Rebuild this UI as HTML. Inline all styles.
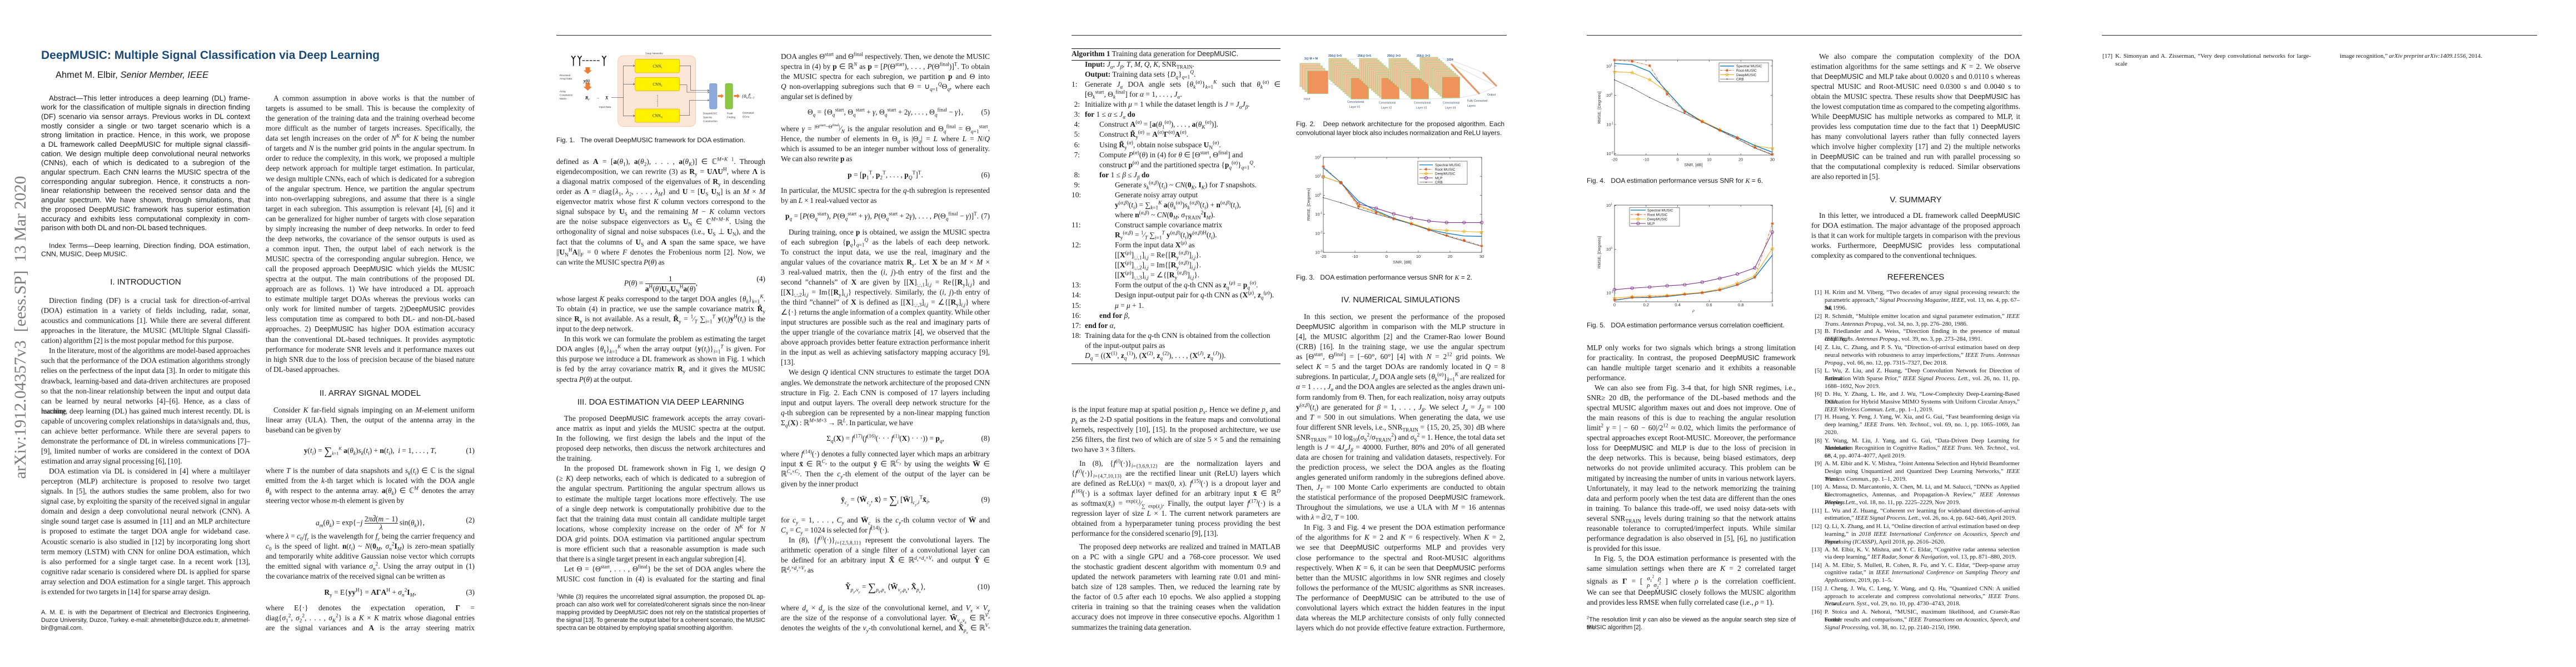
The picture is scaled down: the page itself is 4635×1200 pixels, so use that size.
<!DOCTYPE html>
<html><head><meta charset="utf-8">
<style>
html,body{margin:0;padding:0;background:#fff}
body{width:4635px;height:1200px;position:relative;overflow:hidden}
p{margin:0}
.pg{position:absolute;top:0;width:927px;height:1200px;overflow:hidden;background:#fff}
.rule{position:absolute;left:74px;top:63px;width:783px;height:1.4px;background:#222}
.c{position:absolute;width:376px;font:13.4px/18.07px "Liberation Serif",serif;color:#1a1a1a;word-spacing:-0.5px}
.c p{height:18.07px;text-align:justify;text-align-last:justify;white-space:normal}
.c p.e{text-align-last:left}
.c p.i{text-indent:14px}
sub,sup{font-size:0.7em;line-height:0}
.s{font-family:"Liberation Sans",sans-serif;font-size:0.94em}
.q{position:absolute;width:376px;font:13.4px/18px "Liberation Serif",serif;color:#1a1a1a;text-align:center;height:18px;white-space:nowrap}
.q .n{position:absolute;right:0;top:0}
.h{position:absolute;width:376px;font:15px/18px "Liberation Sans",sans-serif;color:#1a1a1a;text-align:center;white-space:nowrap}
.a{position:absolute;width:376px;font:13.2px/16.7px "Liberation Sans",sans-serif;color:#1a1a1a;word-spacing:-0.6px}
.a p{height:16.7px;text-align:justify;text-align-last:justify}
.a p.e{text-align-last:left}
.a p.i{text-indent:14px}
.x{position:absolute;width:376px;font:12.4px/14.5px "Liberation Sans",sans-serif;color:#1a1a1a;word-spacing:-0.5px}
.x p{height:14.5px;text-align:justify;text-align-last:justify}
.x p.e{text-align-last:left}
.f{position:absolute;width:376px;font:10.9px/14px "Liberation Sans",sans-serif;color:#1a1a1a;word-spacing:-0.5px}
.f p{height:14px;text-align:justify;text-align-last:justify}
.f p.e{text-align-last:left}
.cp{position:absolute;font:12px/16px "Liberation Sans",sans-serif;color:#1a1a1a;white-space:nowrap}
.cpj{position:absolute;width:375px;font:12px/16px "Liberation Sans",sans-serif;color:#1a1a1a;word-spacing:-0.5px}
.cpj p{height:16px;text-align:justify;text-align-last:justify}
.cpj p.e{text-align-last:left}
.r{position:absolute;left:478px;width:351px;padding-left:24px;font:10.9px/13.8px "Liberation Serif",serif;color:#1a1a1a;word-spacing:-0.4px}
.r p{height:13.8px;text-align:justify;text-align-last:justify}
.r p.e{text-align-last:left}
.r .no{position:absolute;left:0;top:0;width:19px;text-align:right}
.alg{position:absolute;left:74px;width:376px;font:13.4px/18.07px "Liberation Serif",serif;color:#1a1a1a}
.alg p{height:18.07px;position:relative;white-space:nowrap}
.alg .no{position:absolute;left:0;top:0;width:15px;text-align:right}
.alg .l0{padding-left:24px}
.alg .l1{padding-left:50px}
.alg .l2{padding-left:78px}
.alg .j{white-space:normal;text-align:justify;text-align-last:justify;width:352px}
.ti{position:absolute;font:bold 21px/24px "Liberation Sans",sans-serif;color:#1b4a78;white-space:nowrap}
.au{position:absolute;font:16.5px/18px "Liberation Sans",sans-serif;color:#1a1a1a;white-space:nowrap}
.side{position:absolute;left:37px;top:589px;width:0;height:0}
.side div{position:absolute;left:0;top:0;transform:translate(-50%,-50%) rotate(-90deg);font:30px "Liberation Serif",serif;color:#7c7c7c;white-space:nowrap}
.mx{display:inline-block;vertical-align:middle;font-size:11px;line-height:12px;text-align:center;text-indent:0}
svg text{font-family:"Liberation Sans",sans-serif}
.hr{position:absolute;background:#111}
</style></head>
<body>
<svg width="0" height="0" style="position:absolute">
<defs>
<marker id="mA" markerWidth="8" markerHeight="8" refX="4" refY="4" markerUnits="userSpaceOnUse"><path d="M1.2,4H6.8M4,1.2V6.8M2,2L6,6M2,6L6,2" stroke="#D95319" stroke-width="0.8" fill="none"/></marker>
<marker id="mS" markerWidth="8" markerHeight="8" refX="4" refY="4" markerUnits="userSpaceOnUse"><polygon points="4,0.8 4.73,2.99 7.04,3.01 5.19,4.39 5.88,6.59 4,5.25 2.12,6.59 2.81,4.39 0.96,3.01 3.27,2.99" fill="none" stroke="#EDB120" stroke-width="0.7"/></marker>
<marker id="mC" markerWidth="8" markerHeight="8" refX="4" refY="4" markerUnits="userSpaceOnUse"><circle cx="4" cy="4" r="2.6" fill="none" stroke="#7E2F8E" stroke-width="0.9"/></marker>
<marker id="mD" markerWidth="6" markerHeight="6" refX="3" refY="3" markerUnits="userSpaceOnUse"><circle cx="3" cy="3" r="0.9" fill="#222"/></marker>
<g id="stk">
<rect x="0" y="0" width="32" height="38" fill="#f6c39d" stroke="#a9d18e"/>
<rect x="3.6" y="3.2" width="32" height="38" fill="#f6c39d" stroke="#a9d18e"/>
<rect x="7.2" y="6.4" width="32" height="38" fill="#f6c39d" stroke="#a9d18e"/>
<rect x="10.8" y="9.6" width="32" height="38" fill="#f6c39d" stroke="#a9d18e"/>
<rect x="14.4" y="12.8" width="32" height="38" fill="#f6c39d" stroke="#a9d18e"/>
<rect x="18" y="16" width="32" height="38" fill="#f6c39d" stroke="#a9d18e"/>
<rect x="21.6" y="19.2" width="32" height="38" fill="#f6c39d" stroke="#a9d18e"/>
<rect x="25.2" y="22.4" width="32" height="38" fill="#f6c39d" stroke="#a9d18e"/>
<rect x="28.8" y="25.6" width="32" height="38" fill="#f6c39d" stroke="#a9d18e"/>
<rect x="32.4" y="28.8" width="32" height="38" fill="#f6c39d" stroke="#a9d18e"/>
<rect x="36" y="32" width="32" height="38" fill="#f6c39d" stroke="#a9d18e"/>
<rect x="39.6" y="35.2" width="32" height="38" fill="#f0935a" stroke="#a9d18e"/>
</g>
</defs>
</svg>

<!-- ================= PAGE 1 ================= -->
<div class="pg" style="left:0">
<div class="side"><div>arXiv:1912.04357v3&nbsp; [eess.SP]&nbsp; 13 Mar 2020</div></div>
<div class="ti" style="left:74px;top:88px">DeepMUSIC: Multiple Signal Classification via Deep Learning</div>
<div class="au" style="left:100px;top:126px">Ahmet M. Elbir, <i>Senior Member, IEEE</i></div>

<div class="a" style="left:74px;top:168.6px">
<p class="i">Abstract—This letter introduces a deep learning (DL) frame-</p>
<p>work for the classification of multiple signals in direction finding</p>
<p>(DF) scenario via sensor arrays. Previous works in DL context</p>
<p>mostly consider a single or two target scenario which is a</p>
<p>strong limitation in practice. Hence, in this work, we propose</p>
<p>a DL framework called DeepMUSIC for multiple signal classifi-</p>
<p>cation. We design multiple deep convolutional neural networks</p>
<p>(CNNs), each of which is dedicated to a subregion of the</p>
<p>angular spectrum. Each CNN learns the MUSIC spectra of the</p>
<p>corresponding angular subregion. Hence, it constructs a non-</p>
<p>linear relationship between the received sensor data and the</p>
<p>angular spectrum. We have shown, through simulations, that</p>
<p>the proposed DeepMUSIC framework has superior estimation</p>
<p>accuracy and exhibits less computational complexity in com-</p>
<p class="e">parison with both DL and non-DL based techniques.</p>
</div>
<div class="x" style="left:74px;top:435px">
<p style="text-indent:14px">Index Terms—Deep learning, Direction finding, DOA estimation,</p>
<p class="e">CNN, MUSIC, Deep MUSIC.</p>
</div>
<div class="h" style="left:74px;top:499px">I. INTRODUCTION</div>
<div class="c" style="left:74px;top:532px">
<p class="i">Direction finding (DF) is a crucial task for direction-of-arrival</p>
<p>(DOA) estimation in a variety of fields including, radar, sonar,</p>
<p>acoustics and communications [1]. While there are several different</p>
<p>approaches in the literature, the MUSIC (MUltiple SIgnal Classifi-</p>
<p class="e">cation) algorithm [2] is the most popular method for this purpose.</p>
<p class="i">In the literature, most of the algorithms are model-based approaches</p>
<p>such that the performance of the DOA estimation algorithms strongly</p>
<p>relies on the perfectness of the input data [3]. In order to mitigate this</p>
<p>drawback, learning-based and data-driven architectures are proposed</p>
<p>so that the non-linear relationship between the input and output data</p>
<p>can be learned by neural networks [4]–[6]. Hence, as a class of machine</p>
<p>learning, deep learning (DL) has gained much interest recently. DL is</p>
<p>capable of uncovering complex relationships in data/signals and, thus,</p>
<p>can achieve better performance. While there are several papers to</p>
<p>demonstrate the performance of DL in wireless communications [7]–</p>
<p>[9], limited number of works are considered in the context of DOA</p>
<p class="e">estimation and array signal processing [6], [10].</p>
<p class="i">DOA estimation via DL is considered in [4] where a multilayer</p>
<p>perceptron (MLP) architecture is proposed to resolve two target</p>
<p>signals. In [5], the authors studies the same problem, also for two</p>
<p>signal case, by exploiting the sparsity of the received signal in angular</p>
<p>domain and design a deep convolutional neural network (CNN). A</p>
<p>single sound target case is assumed in [11] and an MLP architecture</p>
<p>is proposed to estimate the target DOA angle for wideband case.</p>
<p>Acoustic scenario is also studied in [12] by incorporating long short</p>
<p>term memory (LSTM) with CNN for online DOA estimation, which</p>
<p>is also performed for a single target case. In a recent work [13],</p>
<p>cognitive radar scenario is considered where DL is applied for sparse</p>
<p>array selection and DOA estimation for a single target. This approach</p>
<p class="e">is extended for two targets in [14] for sparse array design.</p>
</div>
<div class="f" style="left:74px;top:1095px">
<p>A. M. E. is with the Department of Electrical and Electronics Engineering,</p>
<p>Duzce University, Duzce, Turkey. e-mail: ahmetelbir@duzce.edu.tr, ahmetmel-</p>
<p class="e">bir@gmail.com.</p>
</div>

<div class="c" style="left:478px;top:168px">
<p class="i">A common assumption in above works is that the number of</p>
<p>targets is assumed to be small. This is because the complexity of</p>
<p>the generation of the training data and the training overhead become</p>
<p>more difficult as the number of targets increases. Specifically, the</p>
<p>data set length increases on the order of <i>N</i><sup><i>K</i></sup> for <i>K</i> being the number</p>
<p>of targets and <i>N</i> is the number grid points in the angular spectrum. In</p>
<p>order to reduce the complexity, in this work, we proposed a multiple</p>
<p>deep network approach for multiple target estimation. In particular,</p>
<p>we design multiple CNNs, each of which is dedicated for a subregion</p>
<p>of the angular spectrum. Hence, we partition the angular spectrum</p>
<p>into non-overlapping subregions, and assume that there is a single</p>
<p>target in each subregion. This assumption is relevant [4], [6] and it</p>
<p>can be generalized for higher number of targets with close separation</p>
<p>by simply increasing the number of deep networks. In order to feed</p>
<p>the deep networks, the covariance of the sensor outputs is used as</p>
<p>a common input. Then, the output label of each network is the</p>
<p>MUSIC spectra of the corresponding angular subregion. Hence, we</p>
<p>call the proposed approach <span class="s">DeepMUSIC</span> which yields the MUSIC</p>
<p>spectra at the output. The main contributions of the proposed DL</p>
<p>approach are as follows. 1) We have introduced a DL approach</p>
<p>to estimate multiple target DOAs whereas the previous works can</p>
<p>only work for limited number of targets. 2)<span class="s">DeepMUSIC</span> provides</p>
<p>less computation time as compared to both DL- and non-DL-based</p>
<p>approaches. 2) <span class="s">DeepMUSIC</span> has higher DOA estimation accuracy</p>
<p>than the conventional DL-based techniques. It provides asymptotic</p>
<p>performance for moderate SNR levels and it performance maxes out</p>
<p>in high SNR due to the loss of precision because of the biased nature</p>
<p class="e">of DL-based approaches.</p>
</div>
<div class="h" style="left:478px;top:699px">II. ARRAY SIGNAL MODEL</div>
<div class="c" style="left:478px;top:729px">
<p class="i">Consider <i>K</i> far-field signals impinging on an <i>M</i>-element uniform</p>
<p>linear array (ULA). Then, the output of the antenna array in the</p>
<p class="e">baseband can be given by</p>
</div>
<div class="q" style="left:478px;top:802px"><b>y</b>(<i>t<sub>i</sub></i>) = <span style="font-size:20px;vertical-align:-3px">∑</span><sub style="font-size:8px"><i>k</i>=1</sub><sup style="font-size:8px"><i>K</i></sup> <b>a</b>(<i>θ<sub>k</sub></i>)<i>s<sub>k</sub></i>(<i>t<sub>i</sub></i>) + <b>n</b>(<i>t<sub>i</sub></i>),&nbsp; <i>i</i> = 1, . . . , <i>T</i>,<span class="n">(1)</span></div>
<div class="c" style="left:478px;top:838px">
<p>where <i>T</i> is the number of data snapshots and <i>s<sub>k</sub></i>(<i>t<sub>i</sub></i>) ∈ ℂ is the signal</p>
<p>emitted from the <i>k</i>-th target which is located with the DOA angle</p>
<p><i>θ<sub>k</sub></i> with respect to the antenna array. <b>a</b>(<i>θ<sub>k</sub></i>) ∈ ℂ<sup><i>M</i></sup> denotes the array</p>
<p class="e">steering vector whose <i>m</i>-th element is given by</p>
</div>
<div class="q" style="left:478px;top:927px"><i>a<sub>m</sub></i>(<i>θ<sub>k</sub></i>) = exp{−<i>j</i> <span style="display:inline-block;vertical-align:middle;text-align:center;line-height:14px"><span style="border-bottom:1px solid #222;display:block">2<i>π</i><i>d̄</i>(<i>m</i> − 1)</span><i>λ</i></span> sin(<i>θ<sub>k</sub></i>)},<span class="n">(2)</span></div>
<div class="c" style="left:478px;top:956px">
<p>where <i>λ</i> = <i>c</i><sub>0</sub>/<i>f<sub>c</sub></i> is the wavelength for <i>f<sub>c</sub></i> being the carrier frequency and</p>
<p><i>c</i><sub>0</sub> is the speed of light. <b>n</b>(<i>t<sub>i</sub></i>) ~ <i>N</i>(<b>0</b><sub><i>M</i></sub>, <i>σ</i><sub><i>n</i></sub><sup>2</sup><b>I</b><sub><i>M</i></sub>) is zero-mean spatially</p>
<p>and temporarily white additive Gaussian noise vector which corrupts</p>
<p>the emitted signal with variance <i>σ</i><sub><i>n</i></sub><sup>2</sup>. Using the array output in (1)</p>
<p class="e">the covariance matrix of the received signal can be written as</p>
</div>
<div class="q" style="left:478px;top:1056.5px"><b>R</b><sub>y</sub> = E{<b>yy</b><sup>H</sup>} = <b>AΓA</b><sup>H</sup> + <i>σ</i><sub><i>n</i></sub><sup>2</sup><b>I</b><sub><i>M</i></sub>,<span class="n">(3)</span></div>
<div class="c" style="left:478px;top:1084.5px">
<p>where E{·} denotes the expectation operation, <b>Γ</b> =</p>
<p>diag{<i>σ</i><sub>1</sub><sup>2</sup>, <i>σ</i><sub>2</sub><sup>2</sup>, . . . , <i>σ</i><sub><i>K</i></sub><sup>2</sup>} is a <i>K</i> × <i>K</i> matrix whose diagonal entries</p>
<p>are the signal variances and <b>A</b> is the array steering matrix</p>
</div>
</div>

<!-- ================= PAGE 2 ================= -->
<div class="pg" style="left:927px">
<div class="rule"></div>
<svg width="927" height="260" style="position:absolute;left:0;top:0">
<g stroke="#111" stroke-width="1.6" fill="none" stroke-linecap="round">
<path d="M104.7,118V108 M101.3,101 Q104.7,104 104.7,108 Q104.7,104 108.1,101"/>
<path d="M116,118V108 M112.6,101 Q116,104 116,108 Q116,104 119.4,101"/>
<path d="M160,118V108 M156.6,101 Q160,104 160,108 Q160,104 163.4,101"/>
<path d="M121,109H152" stroke-dasharray="4 2.6" stroke-width="1.2"/>
</g>
<polygon fill="#ed7d31" points="126.5,121 134.5,121 134.5,126.5 138,126.5 130.5,133 123,126.5 126.5,126.5"/>
<polygon fill="#ed7d31" points="126.5,149 134.5,149 134.5,156 138,156 130.5,163 123,156 126.5,156"/>
<g font-size="4.6" fill="#333">
<text x="80" y="137">Received</text><text x="80" y="143">Array Data</text>
<text x="80" y="166">Array</text><text x="80" y="172.5">Covariance</text><text x="80" y="179">Matrix</text>
<text x="151" y="194">Input  Data</text>
<text x="250" y="97.5" text-anchor="middle">Deep Networks</text>
<text x="338" y="205.5">DeepMUSIC</text><text x="338" y="212.5">Spectra</text><text x="338" y="219.5">Construction</text>
<text x="381" y="205.5">Peak</text><text x="381" y="212.5">Finding</text>
<text x="409" y="204.5">Estimated</text><text x="409" y="211.5">DOAs</text>
</g>
<g font-family="Liberation Serif" font-style="italic" font-weight="bold" fill="#111">
<text x="123" y="148" font-size="8" style="font-family:'Liberation Serif'">y(t)</text>
<text x="126" y="178.5" font-size="8" style="font-family:'Liberation Serif'">R<tspan font-size="5" dy="1.5">y</tspan></text>
<text x="162" y="178.5" font-size="8" style="font-family:'Liberation Serif'">X</text>
</g>
<text x="145" y="178" font-size="7" fill="#333">→</text>
<rect x="184.7" y="100" width="140" height="127.7" rx="10" fill="#fbe5d6" stroke="#f4c7a8" stroke-width="0.8"/>
<g stroke="#444" stroke-width="0.6" fill="none">
<path d="M173,175.3H194.7 M194.7,118.3V209.3 M194.7,118.3H215 M194.7,151.3H215 M194.7,208.3H215"/>
<path d="M212,116.5L215,118.3L212,120.1 M212,149.5L215,151.3L212,153.1 M212,206.5L215,208.3L212,210.1"/>
<path d="M295.7,118.3H315.7V162.7H349 M295.7,152.7H309V166H349 M295.7,207.7H313.7V180.3H349"/>
<path d="M346,161L349,162.7L346,164.4 M346,164.3L349,166L346,167.7 M346,178.6L349,180.3L346,182"/>
<path d="M256.3,171V193" stroke-dasharray="1 1.2" stroke-width="0.9"/>
</g>
<g fill="#fff100" stroke="#d9b400" stroke-width="0.8">
<rect x="215.7" y="106.7" width="80" height="24.3" rx="2.5"/>
<rect x="215.7" y="139.3" width="80" height="24" rx="2.5"/>
<rect x="215.7" y="196" width="80" height="24" rx="2.5"/>
</g>
<g font-size="7" fill="#222" text-anchor="middle" style="font-family:'Liberation Serif'">
<text x="256" y="121.5" style="font-family:'Liberation Serif'">CNN<tspan font-size="4.5" dy="1.5">1</tspan></text>
<text x="256" y="154" style="font-family:'Liberation Serif'">CNN<tspan font-size="4.5" dy="1.5">2</tspan></text>
<text x="256" y="210.5" style="font-family:'Liberation Serif'">CNN<tspan font-size="4.5" dy="1.5">Q</tspan></text>
</g>
<rect x="349.7" y="150.3" width="13.3" height="45.7" rx="2.5" fill="#8eaadb" stroke="#6f8fc4" stroke-width="0.7"/>
<rect x="378" y="150.3" width="13.3" height="45.7" rx="2.5" fill="#8dc63f" stroke="#70ad47" stroke-width="0.7"/>
<polygon fill="#ed7d31" points="364.5,171 370.5,171 370.5,168.5 375,172.7 370.5,177 370.5,174.4 364.5,174.4"/>
<polygon fill="#ed7d31" points="393.5,171 399.5,171 399.5,168.5 404,172.7 399.5,177 399.5,174.4 393.5,174.4"/>
<text x="408" y="176" font-size="8.5" fill="#222" style="font-family:'Liberation Serif';font-style:italic">{θ<tspan font-size="5.5" dy="1.5">k</tspan><tspan dy="-1.5">}</tspan><tspan font-size="5.5" dy="1.5">k=1</tspan><tspan font-size="5.5" dx="-10" dy="-6">K</tspan></text>
</svg>
<div class="cp" style="left:74px;top:244px">Fig. 1.&nbsp;&nbsp;&nbsp;The overall DeepMUSIC framework for DOA estimation.</div>

<div class="c" style="left:74px;top:282px">
<p>defined as <b>A</b> = [<b>a</b>(<i>θ</i><sub>1</sub>), <b>a</b>(<i>θ</i><sub>2</sub>), . . . , <b>a</b>(<i>θ<sub>K</sub></i>)] ∈ ℂ<sup><i>M</i>×<i>K</i> 1</sup>. Through</p>
<p>eigendecomposition, we can rewrite (3) as <b>R</b><sub>y</sub> = <b>UΛU</b><sup>H</sup>, where <b>Λ</b> is</p>
<p>a diagonal matrix composed of the eigenvalues of <b>R</b><sub>y</sub> in descending</p>
<p>order as <b>Λ</b> = diag{<i>λ</i><sub>1</sub>, <i>λ</i><sub>2</sub>, . . . , <i>λ<sub>M</sub></i>} and <b>U</b> = [<b>U</b><sub>S</sub> <b>U</b><sub>N</sub>] is an <i>M</i> × <i>M</i></p>
<p>eigenvector matrix whose first <i>K</i> column vectors correspond to the</p>
<p>signal subspace by <b>U</b><sub>S</sub> and the remaining <i>M</i> − <i>K</i> column vectors</p>
<p>are the noise subspace eigenvectors as <b>U</b><sub>N</sub> ∈ ℂ<sup><i>M</i>×<i>M</i>−<i>K</i></sup>. Using the</p>
<p>orthogonality of signal and noise subspaces (i.e., <b>U</b><sub>S</sub> ⊥ <b>U</b><sub>N</sub>), and the</p>
<p>fact that the columns of <b>U</b><sub>S</sub> and <b>A</b> span the same space, we have</p>
<p>||<b>U</b><sub>N</sub><sup>H</sup><b>A</b>||<sub><i>F</i></sub> = 0 where <i>F</i> denotes the Frobenious norm [2]. Now, we</p>
<p class="e">can write the MUSIC spectra <i>P</i>(<i>θ</i>) as</p>
</div>
<div class="q" style="left:74px;top:493px"><i>P</i>(<i>θ</i>) = <span style="display:inline-block;vertical-align:middle;text-align:center;line-height:17px"><span style="border-bottom:1px solid #222;display:block">1</span><b>a</b><sup>H</sup>(<i>θ</i>)<b>U</b><sub>N</sub><b>U</b><sub>N</sub><sup>H</sup><b>a</b>(<i>θ</i>)</span>,<span class="n">(4)</span></div>
<div class="c" style="left:74px;top:529px">
<p>whose largest <i>K</i> peaks correspond to the target DOA angles {<i>θ<sub>k</sub></i>}<sub><i>k</i>=1</sub><sup><i>K</i></sup>.</p>
<p>To obtain (4) in practice, we use the sample covariance matrix <b>R̂</b><sub>y</sub></p>
<p>since <b>R</b><sub>y</sub> is not available. As a result, <b>R̂</b><sub>y</sub> = <sup>1</sup>⁄<sub><i>T</i></sub> ∑<sub><i>i</i>=1</sub><sup><i>T</i></sup> <b>y</b>(<i>t<sub>i</sub></i>)<b>y</b><sup>H</sup>(<i>t<sub>i</sub></i>) is the</p>
<p class="e">input to the deep network.</p>
<p class="i">In this work we can formulate the problem as estimating the target</p>
<p>DOA angles {<i>θ<sub>k</sub></i>}<sub><i>k</i>=1</sub><sup><i>K</i></sup> when the array output {<b>y</b>(<i>t<sub>i</sub></i>)}<sub><i>i</i>=1</sub><sup><i>T</i></sup> is given. For</p>
<p>this purpose we introduce a DL framework as shown in Fig. 1 which</p>
<p>is fed by the array covariance matrix <b>R</b><sub>y</sub> and it gives the MUSIC</p>
<p class="e">spectra <i>P</i>(<i>θ</i>) at the output.</p>
</div>
<div class="h" style="left:74px;top:715px">III. DOA ESTIMATION VIA DEEP LEARNING</div>
<div class="c" style="left:74px;top:744px">
<p class="i">The proposed <span class="s">DeepMUSIC</span> framework accepts the array covari-</p>
<p>ance matrix as input and yields the MUSIC spectra at the output.</p>
<p>In the following, we first design the labels and the input of the</p>
<p>proposed deep networks, then discuss the network architectures and</p>
<p class="e">the training.</p>
<p class="i">In the proposed DL framework shown in Fig 1, we design <i>Q</i></p>
<p>(≥ <i>K</i>) deep networks, each of which is dedicated to a subregion of</p>
<p>the angular spectrum. Partitioning the angular spectrum allows us</p>
<p>to estimate the multiple target locations more effectively. The use</p>
<p>of a single deep network is computationally prohibitive due to the</p>
<p>fact that the training data must contain all candidate multiple target</p>
<p>locations, whose complexity increase on the order of <i>N</i><sup><i>K</i></sup> for <i>N</i></p>
<p>DOA grid points. DOA estimation via partitioned angular spectrum</p>
<p>is more efficient such that a reasonable assumption is made such</p>
<p class="e">that there is a single target present in each angular subregion [4].</p>
<p class="i">Let Θ = {Θ<sup>start</sup>, . . . , Θ<sup>final</sup>} be the set of DOA angles where the</p>
<p>MUSIC cost function in (4) is evaluated for the starting and final</p>
</div>
<div class="f" style="left:74px;top:1067px">
<p><sup>1</sup>While (3) requires the uncorrelated signal assumption, the proposed DL ap-</p>
<p>proach can also work well for correlated/coherent signals since the non-linear</p>
<p>mapping provided by DeepMUSIC does not rely on the statistical properties of</p>
<p>the signal [13]. To generate the output label for a coherent scenario, the MUSIC</p>
<p class="e">spectra can be obtained by employing spatial smoothing algorithm.</p>
</div>

<div class="c" style="left:478px;top:92.5px">
<p>DOA angles Θ<sup>start</sup> and Θ<sup>final</sup> respectively. Then, we denote the MUSIC</p>
<p>spectra in (4) by <b>p</b> ∈ ℝ<sup><i>N</i></sup> as <b>p</b> = [<i>P</i>(Θ<sup>start</sup>), . . . , <i>P</i>(Θ<sup>final</sup>)]<sup>T</sup>. To obtain</p>
<p>the MUSIC spectra for each subregion, we partition <b>p</b> and Θ into</p>
<p><i>Q</i> non-overlapping subregions such that Θ = ∪<sub><i>q</i>=1</sub><sup><i>Q</i></sup>Θ<sub><i>q</i></sub>, where each</p>
<p class="e">angular set is defined by</p>
</div>
<div class="q" style="left:478px;top:193px">Θ<sub><i>q</i></sub> = {Θ<sub><i>q</i></sub><sup>start</sup>, Θ<sub><i>q</i></sub><sup>start</sup> + <i>γ</i>, Θ<sub><i>q</i></sub><sup>start</sup> + 2<i>γ</i>, . . . , Θ<sub><i>q</i></sub><sup>final</sup> − <i>γ</i>},<span class="n">(5)</span></div>
<div class="c" style="left:478px;top:223px">
<p>where <i>γ</i> = <sup>|Θ<sup>start</sup>−Θ<sup>final</sup>|</sup>⁄<sub><i>N</i></sub> is the angular resolution and Θ<sub><i>q</i></sub><sup>final</sup> = Θ<sub><i>q</i>+1</sub><sup>start</sup>.</p>
<p>Hence, the number of elements in Θ<sub><i>q</i></sub> is |Θ<sub><i>q</i></sub>| = <i>L</i> where <i>L</i> = <i>N</i>/<i>Q</i></p>
<p>which is assumed to be an integer number without loss of generality.</p>
<p class="e">We can also rewrite <b>p</b> as</p>
</div>
<div class="q" style="left:478px;top:305.5px"><b>p</b> = [<b>p</b><sub>1</sub><sup>T</sup>, <b>p</b><sub>2</sub><sup>T</sup>, . . . , <b>p</b><sub><i>Q</i></sub><sup>T</sup>]<sup>T</sup>.<span class="n">(6)</span></div>
<div class="c" style="left:478px;top:334px">
<p>In particular, the MUSIC spectra for the <i>q</i>-th subregion is represented</p>
<p class="e">by an <i>L</i> × 1 real-valued vector as</p>
</div>
<div class="q" style="left:478px;top:380px;text-align:left;padding-left:8px;box-sizing:border-box"><b>p</b><sub><i>q</i></sub> = [<i>P</i>(Θ<sub><i>q</i></sub><sup>start</sup>), <i>P</i>(Θ<sub><i>q</i></sub><sup>start</sup> + <i>γ</i>), <i>P</i>(Θ<sub><i>q</i></sub><sup>start</sup> + 2<i>γ</i>), . . . , <i>P</i>(Θ<sub><i>q</i></sub><sup>final</sup> − <i>γ</i>)]<sup>T</sup>.<span class="n">(7)</span></div>
<div class="c" style="left:478px;top:408.6px">
<p class="i">During training, once <b>p</b> is obtained, we assign the MUSIC spectra</p>
<p>of each subregion {<b>p</b><sub><i>q</i></sub>}<sub><i>q</i>=1</sub><sup><i>Q</i></sup> as the labels of each deep network.</p>
<p>To construct the input data, we use the real, imaginary and the</p>
<p>angular values of the covariance matrix <b>R</b><sub>y</sub>. Let <b>X</b> be an <i>M</i> × <i>M</i> ×</p>
<p>3 real-valued matrix, then the (<i>i</i>, <i>j</i>)-th entry of the first and the</p>
<p>second ”channels” of <b>X</b> are given by [[<b>X</b>]<sub>:,:,1</sub>]<sub><i>i,j</i></sub> = Re{[<b>R</b><sub>y</sub>]<sub><i>i,j</i></sub>} and</p>
<p>[[<b>X</b>]<sub>:,:,2</sub>]<sub><i>i,j</i></sub> = Im{[<b>R</b><sub>y</sub>]<sub><i>i,j</i></sub>} respectively. Similarly, the (<i>i</i>, <i>j</i>)-th entry of</p>
<p>the third ”channel” of <b>X</b> is defined as [[<b>X</b>]<sub>:,:,3</sub>]<sub><i>i,j</i></sub> = ∠{[<b>R</b><sub>y</sub>]<sub><i>i,j</i></sub>} where</p>
<p>∠{·} returns the angle information of a complex quantity. While other</p>
<p>input structures are possible such as the real and imaginary parts of</p>
<p>the upper triangle of the covariance matrix [4], we observed that the</p>
<p>above approach provides better feature extraction performance inherit</p>
<p>in the input as well as achieving satisfactory mapping accuracy [9],</p>
<p class="e">[13].</p>
<p class="i">We design <i>Q</i> identical CNN structures to estimate the target DOA</p>
<p>angles. We demonstrate the network architecture of the proposed CNN</p>
<p>structure in Fig. 2. Each CNN is composed of 17 layers including</p>
<p>input and output layers. The overall deep network structure for the</p>
<p><i>q</i>-th subregion can be represented by a non-linear mapping function</p>
<p class="e">Σ<sub><i>q</i></sub>(<b>X</b>) : ℝ<sup><i>M</i>×<i>M</i>×3</sup> → ℝ<sup><i>L</i></sup>. In particular, we have</p>
</div>
<div class="q" style="left:478px;top:779.5px">Σ<sub><i>q</i></sub>(<b>X</b>) = <i>f</i><sup>(17)</sup>(<i>f</i><sup>(16)</sup>(· · · <i>f</i><sup>(1)</sup>(<b>X</b>) · · ·)) = <b>p</b><sub><i>q</i></sub>,<span class="n">(8)</span></div>
<div class="c" style="left:478px;top:807.5px">
<p>where <i>f</i><sup>(14)</sup>(·) denotes a fully connected layer which maps an arbitrary</p>
<p>input <b>x̄</b> ∈ ℝ<sup><i>C<sub>x</sub></i></sup> to the output <b>ȳ</b> ∈ ℝ<sup><i>C<sub>y</sub></i></sup> by using the weights <b>W̄</b> ∈</p>
<p>ℝ<sup><i>C<sub>x</sub></i>×<i>C<sub>y</sub></i></sup>. Then the <i>c<sub>y</sub></i>-th element of the output of the layer can be</p>
<p class="e">given by the inner product</p>
</div>
<div class="q" style="left:478px;top:890px"><b>ȳ</b><sub><i>c<sub>y</sub></i></sub> = ⟨<b>W̄</b><sub><i>c<sub>y</sub></i></sub>, <b>x̄</b>⟩ = <span style="font-size:20px;vertical-align:-3px">∑</span><sub><i>i</i></sub> [<b>W̄</b>]<sub><i>c<sub>y</sub></i>,<i>i</i></sub><sup>T</sup><b>x̄</b><sub><i>i</i></sub>,<span class="n">(9)</span></div>
<div class="c" style="left:478px;top:927px">
<p>for <i>c<sub>y</sub></i> = 1, . . . , <i>C<sub>y</sub></i> and <b>W̄</b><sub><i>c<sub>y</sub></i></sub> is the <i>c<sub>y</sub></i>-th column vector of <b>W̄</b> and</p>
<p class="e"><i>C<sub>x</sub></i> = <i>C<sub>y</sub></i> = 1024 is selected for <i>f</i><sup>(14)</sup>(·).</p>
<p class="i">In (8), {<i>f</i><sup>(<i>i</i>)</sup>(·)}<sub><i>i</i>={2,5,8,11}</sub> represent the convolutional layers. The</p>
<p>arithmetic operation of a single filter of a convolutional layer can</p>
<p>be defined for an arbitrary input <b>X̃</b> ∈ ℝ<sup><i>d<sub>x</sub></i>×<i>d<sub>x</sub></i>×<i>V<sub>x</sub></i></sup> and output <b>Ỹ</b> ∈</p>
<p class="e">ℝ<sup><i>d<sub>y</sub></i>×<i>d<sub>y</sub></i>×<i>V<sub>y</sub></i></sup> as</p>
</div>
<div class="q" style="left:478px;top:1047px"><b>Ỹ</b><sub><i>p<sub>y</sub></i>,<i>v<sub>y</sub></i></sub> = <span style="font-size:20px;vertical-align:-3px">∑</span><sub><i>p<sub>k</sub></i>,<i>p<sub>x</sub></i></sub> ⟨<b>W̃</b><sub><i>v<sub>y</sub></i>,<i>p<sub>k</sub></i></sub>, <b>X̃</b><sub><i>p<sub>x</sub></i></sub>⟩,<span class="n">(10)</span></div>
<div class="c" style="left:478px;top:1084.5px">
<p>where <i>d<sub>x</sub></i> × <i>d<sub>y</sub></i> is the size of the convolutional kernel, and <i>V<sub>x</sub></i> × <i>V<sub>y</sub></i></p>
<p>are the size of the response of a convolutional layer. <b>W̃</b><sub><i>v<sub>y</sub></i>,<i>v<sub>k</sub></i></sub> ∈ ℝ<sup><i>V<sub>x</sub></i></sup></p>
<p>denotes the weights of the <i>v<sub>y</sub></i>-th convolutional kernel, and <b>X̃</b><sub><i>p<sub>x</sub></i></sub> ∈ ℝ<sup><i>V<sub>x</sub></i></sup></p>
</div>
</div>

<!-- ================= PAGE 3 ================= -->
<div class="pg" style="left:1854px">
<div class="rule"></div>
<div class="hr" style="left:74px;top:86.7px;width:376px;height:1.4px"></div>
<div class="hr" style="left:74px;top:107.6px;width:376px;height:0.8px"></div>
<div class="hr" style="left:74px;top:654px;width:376px;height:0.8px"></div>
<div class="alg" style="left:74px;top:88px"><p><b>Algorithm 1</b> Training data generation for <span class="s">DeepMUSIC</span>.</p></div>
<div class="alg" style="top:107px">
<p class="l0"><b>Input:</b> <i>J<sub>α</sub></i>, <i>J<sub>β</sub></i>, <i>T</i>, <i>M</i>, <i>Q</i>, <i>K</i>, SNR<sub>TRAIN</sub>.</p>
<p class="l0"><b>Output:</b> Training data sets {<i>D<sub>q</sub></i>}<sub><i>q</i>=1</sub><sup><i>Q</i></sup>.</p>
<p class="l0 j"><span class="no">1:</span>Generate <i>J<sub>α</sub></i> DOA angle sets {<i>θ<sub>k</sub></i><sup>(<i>α</i>)</sup>}<sub><i>k</i>=1</sub><sup><i>K</i></sup> such that <i>θ<sub>k</sub></i><sup>(<i>α</i>)</sup> ∈</p>
<p class="l0">[Θ<sub><i>k</i></sub><sup>start</sup>, Θ<sub><i>k</i></sub><sup>final</sup>] for <i>α</i> = 1, . . . , <i>J<sub>α</sub></i>.</p>
<p class="l0"><span class="no">2:</span>Initialize with <i>μ</i> = 1 while the dataset length is <i>J</i> = <i>J<sub>α</sub>J<sub>β</sub></i>.</p>
<p class="l0"><span class="no">3:</span><b>for</b> 1 ≤ <i>α</i> ≤ <i>J<sub>α</sub></i> <b>do</b></p>
<p class="l1"><span class="no">4:</span>Construct <b>A</b><sup>(<i>α</i>)</sup> = [<b>a</b>(<i>θ</i><sub>1</sub><sup>(<i>α</i>)</sup>), . . . , <b>a</b>(<i>θ<sub>K</sub></i><sup>(<i>α</i>)</sup>)].</p>
<p class="l1"><span class="no">5:</span>Construct <b>R̃</b><sub>y</sub><sup>(<i>α</i>)</sup> = <b>A</b><sup>(<i>α</i>)</sup><b>Γ</b><sup>(<i>α</i>)</sup><b>A</b><sup>(<i>α</i>)</sup>.</p>
<p class="l1"><span class="no">6:</span>Using <b>R̃</b><sub>y</sub><sup>(<i>α</i>)</sup>, obtain noise subspace <b>U</b><sub>N</sub><sup>(<i>α</i>)</sup>.</p>
<p class="l1"><span class="no">7:</span>Compute <i>P</i><sup>(<i>α</i>)</sup>(<i>θ</i>) in (4) for <i>θ</i> ∈ [Θ<sup>start</sup>, Θ<sup>final</sup>] and</p>
<p class="l1">construct <b>p</b><sup>(<i>α</i>)</sup> and the partitioned spectra {<b>p</b><sub><i>q</i></sub><sup>(<i>α</i>)</sup>}<sub><i>q</i>=1</sub><sup><i>Q</i></sup>.</p>
<p class="l1"><span class="no">8:</span><b>for</b> 1 ≤ <i>β</i> ≤ <i>J<sub>β</sub></i> <b>do</b></p>
<p class="l2"><span class="no">9:</span>Generate <i>s<sub>k</sub></i><sup>(<i>α</i>,<i>β</i>)</sup>(<i>t<sub>i</sub></i>) ~ <i>CN</i>(<b>0</b><sub><i>K</i></sub>, <b>I</b><sub><i>K</i></sub>) for <i>T</i> snapshots.</p>
<p class="l2"><span class="no">10:</span>Generate noisy array output</p>
<p class="l2"><b>y</b><sup>(<i>α</i>,<i>β</i>)</sup>(<i>t<sub>i</sub></i>) = ∑<sub><i>k</i>=1</sub><sup><i>K</i></sup> <b>a</b>(<i>θ<sub>k</sub></i><sup>(<i>α</i>)</sup>)<i>s<sub>k</sub></i><sup>(<i>α</i>,<i>β</i>)</sup>(<i>t<sub>i</sub></i>) + <b>n</b><sup>(<i>α</i>,<i>β</i>)</sup>(<i>t<sub>i</sub></i>),</p>
<p class="l2">where <b>n</b><sup>(<i>α</i>,<i>β</i>)</sup> ~ <i>CN</i>(<b>0</b><sub><i>M</i></sub>, <i>σ</i><sub>TRAIN</sub><sup>2</sup><b>I</b><sub><i>M</i></sub>).</p>
<p class="l2"><span class="no">11:</span>Construct sample covariance matrix</p>
<p class="l2"><b>R</b><sub>y</sub><sup>(<i>α</i>,<i>β</i>)</sup> = <sup>1</sup>⁄<sub><i>T</i></sub> ∑<sub><i>i</i>=1</sub><sup><i>T</i></sup> <b>y</b><sup>(<i>α</i>,<i>β</i>)</sup>(<i>t<sub>i</sub></i>)<b>y</b><sup>(<i>α</i>,<i>β</i>)H</sup>(<i>t<sub>i</sub></i>).</p>
<p class="l2"><span class="no">12:</span>Form the input data <b>X</b><sup>(<i>μ</i>)</sup> as</p>
<p class="l2">[[<b>X</b><sup>(<i>μ</i>)</sup>]<sub>:,:,1</sub>]<sub><i>i,j</i></sub> = Re{[<b>R</b><sub>y</sub><sup>(<i>α</i>,<i>β</i>)</sup>]<sub><i>i,j</i></sub>}.</p>
<p class="l2">[[<b>X</b><sup>(<i>μ</i>)</sup>]<sub>:,:,2</sub>]<sub><i>i,j</i></sub> = Im{[<b>R</b><sub>y</sub><sup>(<i>α</i>,<i>β</i>)</sup>]<sub><i>i,j</i></sub>}.</p>
<p class="l2">[[<b>X</b><sup>(<i>μ</i>)</sup>]<sub>:,:,3</sub>]<sub><i>i,j</i></sub> = ∠{[<b>R</b><sub>y</sub><sup>(<i>α</i>,<i>β</i>)</sup>]<sub><i>i,j</i></sub>}.</p>
<p class="l2"><span class="no">13:</span>Form the output of the <i>q</i>-th CNN as <b>z</b><sub><i>q</i></sub><sup>(<i>μ</i>)</sup> = <b>p</b><sub><i>q</i></sub><sup>(<i>α</i>)</sup>.</p>
<p class="l2"><span class="no">14:</span>Design input-output pair for <i>q</i>-th CNN as (<b>X</b><sup>(<i>μ</i>)</sup>, <b>z</b><sub><i>q</i></sub><sup>(<i>μ</i>)</sup>).</p>
<p class="l2"><span class="no">15:</span><i>μ</i> = <i>μ</i> + 1.</p>
<p class="l1"><span class="no">16:</span><b>end for</b> <i>β</i>,</p>
<p class="l0"><span class="no">17:</span><b>end for</b> <i>α</i>,</p>
<p class="l0"><span class="no">18:</span>Training data for the <i>q</i>-th CNN is obtained from the collection</p>
<p class="l0">of the input-output pairs as</p>
<p class="l0"><i>D<sub>q</sub></i> = ((<b>X</b><sup>(1)</sup>, <b>z</b><sub><i>q</i></sub><sup>(1)</sup>), (<b>X</b><sup>(2)</sup>, <b>z</b><sub><i>q</i></sub><sup>(2)</sup>), . . . , (<b>X</b><sup>(<i>J</i>)</sup>, <b>z</b><sub><i>q</i></sub><sup>(<i>J</i>)</sup>)).</p>
</div>

<div class="c" style="left:74px;top:728px">
<p>is the input feature map at spatial position <i>p<sub>x</sub></i>. Hence we define <i>p<sub>x</sub></i> and</p>
<p><i>p<sub>k</sub></i> as the 2-D spatial positions in the feature maps and convolutional</p>
<p>kernels, respectively [10], [15]. In the proposed architecture, we use</p>
<p>256 filters, the first two of which are of size 5 × 5 and the remaining</p>
<p class="e">two have 3 × 3 filters.</p>
</div>
<div class="c" style="left:74px;top:825px">
<p class="i">In (8), {<i>f</i><sup>(<i>i</i>)</sup>(·)}<sub><i>i</i>={3,6,9,12}</sub> are the normalization layers and</p>
<p>{<i>f</i><sup>(<i>i</i>)</sup>(·)}<sub><i>i</i>={4,7,10,13}</sub> are the rectified linear unit (ReLU) layers which</p>
<p>are defined as ReLU(<i>x</i>) = max(0, <i>x</i>). <i>f</i><sup>(15)</sup>(·) is a dropout layer and</p>
<p><i>f</i><sup>(16)</sup>(·) is a softmax layer defined for an arbitrary input <b>x̄</b> ∈ ℝ<sup><i>D</i></sup></p>
<p>as softmax(<i>x̄<sub>i</sub></i>) = <sup>exp(<i>x̄<sub>i</sub></i>)</sup>⁄<sub>∑ exp(<i>x̄<sub>i</sub></i>)</sub>. Finally, the output layer <i>f</i><sup>(17)</sup>(·) is a</p>
<p>regression layer of size <i>L</i> × 1. The current network parameters are</p>
<p>obtained from a hyperparameter tuning process providing the best</p>
<p class="e">performance for the considered scenario [9], [13].</p>
</div>
<div class="c" style="left:74px;top:975px">
<p class="i">The proposed deep networks are realized and trained in MATLAB</p>
<p>on a PC with a single GPU and a 768-core processor. We used</p>
<p>the stochastic gradient descent algorithm with momentum 0.9 and</p>
<p>updated the network parameters with learning rate 0.01 and mini-</p>
<p>batch size of 128 samples. Then, we reduced the learning rate by</p>
<p>the factor of 0.5 after each 10 epochs. We also applied a stopping</p>
<p>criteria in training so that the training ceases when the validation</p>
<p>accuracy does not improve in three consecutive epochs. Algorithm 1</p>
<p class="e">summarizes the training data generation.</p>
</div>

<svg width="927" height="520" style="position:absolute;left:0;top:0">
<!-- Fig 2 -->
<g stroke="#bbb" stroke-width="0.5" fill="none">
<path d="M537,150 L609,170 M537,112 L592,105 M609,178 L666,178 M666,178 L719,178 M719,178 L772,176 M740,103 L757,115 M772,176 L808,169 M757,115 L839,155 M808,169 L839,155 M761,110 L814,130"/>
</g>
<g>
<rect x="485" y="114" width="36" height="42" fill="#f6c39d" stroke="#a9d18e"/>
<rect x="489.5" y="118.5" width="36" height="42" fill="#f6c39d" stroke="#a9d18e"/>
<rect x="494" y="123" width="36" height="42" fill="#f6c39d" stroke="#a9d18e"/>
<rect x="498.5" y="127.5" width="37" height="41" fill="#f0935a" stroke="#a9d18e"/>
</g>
<use href="#stk" x="537" y="105"/>
<use href="#stk" x="592" y="105"/>
<use href="#stk" x="645" y="105"/>
<use href="#stk" x="701" y="103"/>
<path d="M757,115 L808,169" stroke="#e39a6a" stroke-width="3.2"/>
<path d="M814,130 L839,155" stroke="#e39a6a" stroke-width="3"/>
<g font-size="5.2" fill="#2f5597" font-weight="bold">
<text x="505" y="107" text-anchor="middle">3@ M × M</text>
<text x="548" y="102" text-anchor="middle">256@ 5×5</text>
<text x="601" y="102" text-anchor="middle">256@ 5×5</text>
<text x="654" y="102" text-anchor="middle">256@ 3×3</text>
<text x="707" y="102" text-anchor="middle">256@ 3×3</text>
<text x="755" y="109" text-anchor="middle">1024</text>
</g>
<g font-size="5" fill="#44546a">
<text x="492" y="179.5">Input</text>
<text x="570" y="185">Convolutional</text><text x="574" y="194">Layer #1</text>
<text x="627" y="186.5">Convolutional</text><text x="631" y="195.5">Layer #2</text>
<text x="690" y="186.5">Convolutional</text><text x="694" y="195.5">Layer #3</text>
<text x="742" y="186.5">Convolutional</text><text x="746" y="195.5">Layer #4</text>
<text x="786" y="183">Fully Connected</text><text x="786" y="192">Layers</text>
<text x="822" y="172">Output</text>
</g>

<!-- Fig 3 -->
<rect x="527" y="283" width="285" height="171" fill="#fff" stroke="#262626" stroke-width="0.7"/>
<g stroke="#262626" stroke-width="0.6">
<path d="M527,283h3M527,317.2h3M527,351.4h3M527,385.6h3M527,419.8h3M527,454h3 M812,283h-3M812,317.2h-3M812,351.4h-3M812,385.6h-3M812,419.8h-3M812,454h-3"/>
<path d="M527,454v-3M584,454v-3M641,454v-3M698,454v-3M755,454v-3M812,454v-3 M527,283v3M584,283v3M641,283v3M698,283v3M755,283v3M812,283v3"/>
</g>
<g font-size="7.5" fill="#333" text-anchor="end">
<text x="523" y="285.5">10<tspan font-size="5" dy="-3">2</tspan></text>
<text x="523" y="319.7">10<tspan font-size="5" dy="-3">1</tspan></text>
<text x="523" y="353.9">10<tspan font-size="5" dy="-3">0</tspan></text>
<text x="525" y="388.1">10<tspan font-size="5" dy="-3">-1</tspan></text>
<text x="525" y="422.3">10<tspan font-size="5" dy="-3">-2</tspan></text>
<text x="525" y="456.5">10<tspan font-size="5" dy="-3">-3</tspan></text>
</g>
<g font-size="7.5" fill="#333" text-anchor="middle">
<text x="527" y="464">-20</text><text x="584" y="464">-10</text><text x="641" y="464">0</text><text x="698" y="464">10</text><text x="755" y="464">20</text><text x="812" y="464">30</text>
<text x="669" y="474">SNR, [dB]</text>
<text transform="translate(503,368) rotate(-90)">RMSE, [Degrees]</text>
</g>
<g fill="none">
<polyline stroke="#333" stroke-width="0.7" marker-start="url(#mD)" marker-mid="url(#mD)" marker-end="url(#mD)" points="527,355.6 558.7,364.8 590.3,375.5 622,385 653.7,393.9 685.3,403 717,413.8 748.7,424.5 780.3,434 812,443.3"/>
<polyline stroke="#7E2F8E" stroke-width="1.1" marker-start="url(#mC)" marker-mid="url(#mC)" marker-end="url(#mC)" points="527,318 558.7,328.7 590.3,367 622,374.7 653.7,384.7 685.3,392.3 717,397.7 748.7,400.4 780.3,400.4 812,400.4"/>
<polyline stroke="#EDB120" stroke-width="1.1" marker-start="url(#mS)" marker-mid="url(#mS)" marker-end="url(#mS)" points="527,318 558.7,328.7 590.3,369.7 622,381.2 653.7,392.7 685.3,401.5 717,411.9 748.7,414.6 780.3,416.5 812,417.6"/>
<polyline stroke="#0072BD" stroke-width="1.3" points="527,301.9 558.7,328.4 590.3,362 622,379.3 653.7,392.7 685.3,403 717,413 748.7,419.5 780.3,424.5 812,425.3"/>
<polyline stroke="#D95319" stroke-width="0.9" stroke-dasharray="4 1.5 1 1.5" marker-start="url(#mA)" marker-mid="url(#mA)" marker-end="url(#mA)" points="527,299.6 558.7,328.7 590.3,371.6 622,382.4 653.7,393.9 685.3,403 717,413.8 748.7,423.4 780.3,432.2 812,442.5"/>
</g>
<rect x="697" y="290" width="89" height="41.5" fill="#fff" stroke="#333" stroke-width="0.6"/>
<g fill="none">
<path d="M700,296.6h24" stroke="#0072BD" stroke-width="1.3"/>
<path d="M700,304.4h24" stroke="#D95319" stroke-width="0.9" stroke-dasharray="4 1.5 1 1.5" marker-mid="url(#mA)" d2=""/>
<polyline points="700,304.4 712,304.4 724,304.4" stroke="#D95319" stroke-width="0.9" stroke-dasharray="4 1.5 1 1.5" marker-mid="url(#mA)"/>
<polyline points="700,312.2 712,312.2 724,312.2" stroke="#EDB120" stroke-width="1.1" marker-mid="url(#mS)"/>
<polyline points="700,320 712,320 724,320" stroke="#7E2F8E" stroke-width="1.1" marker-mid="url(#mC)"/>
<polyline points="700,327.8 712,327.8 724,327.8" stroke="#333" stroke-width="0.7" marker-mid="url(#mD)"/>
</g>
<g font-size="6.5" fill="#222">
<text x="728" y="299">Spectral MUSIC</text><text x="728" y="306.8">Root MUSIC</text><text x="728" y="314.6">DeepMUSIC</text><text x="728" y="322.4">MLP</text><text x="728" y="330.2">CRB</text>
</g>
</svg>
<div class="cpj" style="left:478px;top:215px">
<p>Fig. 2.&nbsp;&nbsp;&nbsp;Deep network architecture for the proposed algorithm. Each</p>
<p class="e">convolutional layer block also includes normalization and ReLU layers.</p>
</div>
<div class="cp" style="left:478px;top:491px">Fig. 3.&nbsp;&nbsp;&nbsp;DOA estimation performance versus SNR for <i style="font-family:'Liberation Serif'">K</i> = 2.</div>
<div class="h" style="left:478px;top:531px">IV. NUMERICAL SIMULATIONS</div>
<div class="c" style="left:478px;top:561px">
<p class="i">In this section, we present the performance of the proposed</p>
<p><span class="s">DeepMUSIC</span> algorithm in comparison with the MLP structure in</p>
<p>[4], the MUSIC algorithm [2] and the Cramer-Rao lower Bound</p>
<p>(CRB) [16]. In the training stage, we use the angular spectrum</p>
<p>as [Θ<sup>start</sup>, Θ<sup>final</sup>] = [−60°, 60°] [4] with <i>N</i> = 2<sup>12</sup> grid points. We</p>
<p>select <i>K</i> = 5 and the target DOAs are randomly located in <i>Q</i> = 8</p>
<p>subregions. In particular, <i>J<sub>α</sub></i> DOA angle sets {<i>θ<sub>k</sub></i><sup>(<i>α</i>)</sup>}<sub><i>k</i>=1</sub><sup><i>K</i></sup> are realized for</p>
<p><i>α</i> = 1 . . . , <i>J<sub>α</sub></i> and the DOA angles are selected as the angles drawn uni-</p>
<p>form randomly from Θ. Then, for each realization, noisy array outputs</p>
<p><b>y</b><sup>(<i>α</i>,<i>β</i>)</sup>(<i>t<sub>i</sub></i>) are generated for <i>β</i> = 1, . . . , <i>J<sub>β</sub></i>. We select <i>J<sub>α</sub></i> = <i>J<sub>β</sub></i> = 100</p>
<p>and <i>T</i> = 500 in out simulations. When generating the data, we use</p>
<p>four different SNR levels, i.e., SNR<sub>TRAIN</sub> = {15, 20, 25, 30} dB where</p>
<p>SNR<sub>TRAIN</sub> = 10 log<sub>10</sub>(<i>σ</i><sub>S</sub><sup>2</sup>/<i>σ</i><sub>TRAIN</sub><sup>2</sup>) and <i>σ</i><sub>S</sub><sup>2</sup> = 1. Hence, the total data set</p>
<p>length is <i>J</i> = 4<i>J<sub>α</sub>J<sub>β</sub></i> = 40000. Further, 80% and 20% of all generated</p>
<p>data are chosen for training and validation datasets, respectively. For</p>
<p>the prediction process, we select the DOA angles as the floating</p>
<p>angles generated uniform randomly in the subregions defined above.</p>
<p>Then, <i>J<sub>T</sub></i> = 100 Monte Carlo experiments are conducted to obtain</p>
<p>the statistical performance of the proposed <span class="s">DeepMUSIC</span> framework.</p>
<p>Throughout the simulations, we use a ULA with <i>M</i> = 16 antennas</p>
<p class="e">with <i>λ</i> = <i>d̄</i>/2, <i>T</i> = 100.</p>
<p class="i">In Fig. 3 and Fig. 4 we present the DOA estimation performance</p>
<p>of the algorithms for <i>K</i> = 2 and <i>K</i> = 6 respectively. When <i>K</i> = 2,</p>
<p>we see that <span class="s">DeepMUSIC</span> outperforms MLP and provides very</p>
<p>close performance to the spectral and Root-MUSIC algorithms</p>
<p>respectively. When <i>K</i> = 6, it can be seen that <span class="s">DeepMUSIC</span> performs</p>
<p>better than the MUSIC algorithms in low SNR regimes and closely</p>
<p>follows the performance of the MUSIC algorithms as SNR increases.</p>
<p>The performance of <span class="s">DeepMUSIC</span> can be attributed to the use of</p>
<p>convolutional layers which extract the hidden features in the input</p>
<p>data whereas the MLP architecture consists of only fully connected</p>
<p>layers which do not provide effective feature extraction. Furthermore,</p>
</div>
</div>

<!-- ================= PAGE 4 ================= -->
<div class="pg" style="left:2781px">
<div class="rule"></div>
<svg width="927" height="600" style="position:absolute;left:0;top:0">
<!-- Fig 4 -->
<rect x="124" y="108" width="284" height="171" fill="#fff" stroke="#262626" stroke-width="0.7"/>
<g stroke="#262626" stroke-width="0.6">
<path d="M124,118.8h3M124,171.4h3M124,224h3M124,276.6h3 M408,118.8h-3M408,171.4h-3M408,224h-3M408,276.6h-3"/>
<path d="M124,279v-3M180.8,279v-3M237.6,279v-3M294.4,279v-3M351.2,279v-3M408,279v-3 M124,108v3M180.8,108v3M237.6,108v3M294.4,108v3M351.2,108v3M408,108v3"/>
</g>
<g font-size="7.5" fill="#333" text-anchor="end">
<text x="120" y="121.3">10<tspan font-size="5" dy="-3">1</tspan></text>
<text x="120" y="173.9">10<tspan font-size="5" dy="-3">0</tspan></text>
<text x="122" y="226.5">10<tspan font-size="5" dy="-3">-1</tspan></text>
<text x="122" y="279.1">10<tspan font-size="5" dy="-3">-2</tspan></text>
</g>
<g font-size="7.5" fill="#333" text-anchor="middle">
<text x="124" y="289.5">-20</text><text x="180.8" y="289.5">-10</text><text x="237.6" y="289.5">0</text><text x="294.4" y="289.5">10</text><text x="351.2" y="289.5">20</text><text x="408" y="289.5">30</text>
<text x="266" y="299">SNR, [dB]</text>
<text transform="translate(99,193.5) rotate(-90)">RMSE, [Degrees]</text>
</g>
<g fill="none">
<polyline stroke="#333" stroke-width="0.7" marker-start="url(#mD)" marker-mid="url(#mD)" marker-end="url(#mD)" points="124,143.7 155.6,158.2 187.1,175.5 218.7,190.4 250.2,204.2 281.8,219.2 313.3,234.9 344.9,250.2 376.4,266.3 408,278.5"/>
<polyline stroke="#EDB120" stroke-width="1.1" marker-start="url(#mS)" marker-mid="url(#mS)" marker-end="url(#mS)" points="124,129.1 155.6,130.7 187.1,143.3 218.7,165.5 250.2,199.2 281.8,217.6 313.3,233 344.9,247.1 376.4,262 408,267"/>
<polyline stroke="#0072BD" stroke-width="1.3" points="124,114.2 155.6,116.1 187.1,128.7 218.7,164.8 250.2,199.2 281.8,219.2 313.3,233.7 344.9,247.1 376.4,261.7 408,273.9"/>
<polyline stroke="#D95319" stroke-width="0.9" stroke-dasharray="4 1.5 1 1.5" marker-start="url(#mA)" marker-mid="url(#mA)" marker-end="url(#mA)" points="124,108 155.6,110.3 187.1,118 218.7,169.7 250.2,201.1 281.8,219.2 313.3,234.5 344.9,248.3 376.4,265.1 408,277.8"/>
</g>
<rect x="312" y="113" width="89" height="34" fill="#fff" stroke="#333" stroke-width="0.6"/>
<g fill="none">
<path d="M314,118.8h25" stroke="#0072BD" stroke-width="1.3"/>
<polyline points="314,126.6 326.5,126.6 339,126.6" stroke="#D95319" stroke-width="0.9" stroke-dasharray="4 1.5 1 1.5" marker-mid="url(#mA)"/>
<polyline points="314,134.4 326.5,134.4 339,134.4" stroke="#EDB120" stroke-width="1.1" marker-mid="url(#mS)"/>
<polyline points="314,142.2 326.5,142.2 339,142.2" stroke="#333" stroke-width="0.7" marker-mid="url(#mD)"/>
</g>
<g font-size="6.5" fill="#222">
<text x="343" y="121.2">Spectral MUSIC</text><text x="343" y="129">Root-MUSIC</text><text x="343" y="136.8">DeepMUSIC</text><text x="343" y="144.6">CRB</text>
</g>

<!-- Fig 5 -->
<rect x="124" y="369" width="284" height="174" fill="#fff" stroke="#262626" stroke-width="0.7"/>
<g stroke="#262626" stroke-width="0.6">
<path d="M124,369.7h3M124,448.3h3M124,527h3 M408,369.7h-3M408,448.3h-3M408,527h-3"/>
<path d="M124,543v-3M180.8,543v-3M237.6,543v-3M294.4,543v-3M351.2,543v-3M408,543v-3 M124,369v3M180.8,369v3M237.6,369v3M294.4,369v3M351.2,369v3M408,369v3"/>
</g>
<g font-size="7.5" fill="#333" text-anchor="end">
<text x="120" y="372.2">10<tspan font-size="5" dy="-3">1</tspan></text>
<text x="120" y="450.8">10<tspan font-size="5" dy="-3">0</tspan></text>
<text x="122" y="529.5">10<tspan font-size="5" dy="-3">-1</tspan></text>
</g>
<g font-size="7.5" fill="#333" text-anchor="middle">
<text x="124" y="551">0</text><text x="180.8" y="551">0.2</text><text x="237.6" y="551">0.4</text><text x="294.4" y="551">0.6</text><text x="351.2" y="551">0.8</text><text x="408" y="551">1</text>
<text x="266" y="561" style="font-family:'Liberation Serif';font-style:italic">ρ</text>
<text transform="translate(99,454) rotate(-90)">RMSE, [Degrees]</text>
</g>
<g fill="none">
<polyline stroke="#7E2F8E" stroke-width="1.1" marker-start="url(#mC)" marker-mid="url(#mC)" marker-end="url(#mC)" points="124,521.1 155.6,518.4 187.1,516.5 218.7,514.2 250.2,512.3 281.8,507.7 313.3,500.8 344.9,493.1 376.4,482 408,417.6"/>
<polyline stroke="#EDB120" stroke-width="1.1" marker-start="url(#mS)" marker-mid="url(#mS)" marker-end="url(#mS)" points="124,536.4 155.6,533.7 187.1,532.6 218.7,531.4 250.2,528.7 281.8,526.1 313.3,519.9 344.9,509.6 376.4,496.2 408,447.1"/>
<polyline stroke="#0072BD" stroke-width="1.3" points="124,540.2 155.6,535.6 187.1,535.2 218.7,533.3 250.2,529.9 281.8,526.8 313.3,521.8 344.9,512.6 376.4,499.2 408,459"/>
<polyline stroke="#D95319" stroke-width="0.9" stroke-dasharray="4 1.5 1 1.5" marker-start="url(#mA)" marker-mid="url(#mA)" marker-end="url(#mA)" points="124,539.5 155.6,535.2 187.1,534.5 218.7,532.6 250.2,529.5 281.8,526.8 313.3,521.8 344.9,512.3 376.4,498.9 408,402.3"/>
</g>
<rect x="151" y="373.5" width="90" height="33.5" fill="#fff" stroke="#333" stroke-width="0.6"/>
<g fill="none">
<path d="M153,378h27" stroke="#0072BD" stroke-width="1.3"/>
<polyline points="153,386 166.5,386 180,386" stroke="#D95319" stroke-width="0.9" stroke-dasharray="4 1.5 1 1.5" marker-mid="url(#mA)"/>
<polyline points="153,394 166.5,394 180,394" stroke="#EDB120" stroke-width="1.1" marker-mid="url(#mS)"/>
<polyline points="153,402 166.5,402 180,402" stroke="#7E2F8E" stroke-width="1.1" marker-mid="url(#mC)"/>
</g>
<g font-size="6.5" fill="#222">
<text x="183" y="380.4">Spectral MUSIC</text><text x="183" y="388.4">Root MUSIC</text><text x="183" y="396.4">DeepMUSIC</text><text x="183" y="404.4">MLP</text>
</g>
</svg>
<div class="cp" style="left:74px;top:317px">Fig. 4.&nbsp;&nbsp;&nbsp;DOA estimation performance versus SNR for <i style="font-family:'Liberation Serif'">K</i> = 6.</div>
<div class="cp" style="left:74px;top:577px">Fig. 5.&nbsp;&nbsp;&nbsp;DOA estimation performance versus correlation coefficient.</div>

<div class="c" style="left:74px;top:616.7px">
<p>MLP only works for two signals which brings a strong limitation</p>
<p>for practicality. In contrast, the proposed <span class="s">DeepMUSIC</span> framework</p>
<p>can handle multiple target scenario and it exhibits a reasonable</p>
<p class="e">performance.</p>
<p class="i">We can also see from Fig. 3-4 that, for high SNR regimes, i.e.,</p>
<p>SNR≥ 20 dB, the performance of the DL-based methods and the</p>
<p>spectral MUSIC algorithm maxes out and does not improve. One of</p>
<p>the main reasons of this is due to reaching the angular resolution</p>
<p>limit<sup>2</sup> <i>γ</i> = | − 60 − 60|/2<sup>12</sup> ≈ 0.02, which limits the performance of</p>
<p>spectral approaches except Root-MUSIC. Moreover, the performance</p>
<p>loss for <span class="s">DeepMUSIC</span> and MLP is due to the loss of precision in</p>
<p>the deep networks. This is because, being biased estimators, deep</p>
<p>networks do not provide unlimited accuracy. This problem can be</p>
<p>mitigated by increasing the number of units in various network layers.</p>
<p>Unfortunately, it may lead to the network memorizing the training</p>
<p>data and perform poorly when the test data are different than the ones</p>
<p>in training. To balance this trade-off, we used noisy data-sets with</p>
<p>several SNR<sub>TRAIN</sub> levels during training so that the network attains</p>
<p>reasonable tolerance to corrupted/imperfect inputs. While similar</p>
<p>performance degradation is also observed in [5], [6], no justification</p>
<p class="e">is provided for this issue.</p>
<p class="i">In Fig. 5, the DOA estimation performance is presented with the</p>
<p>same simulation settings when there are <i>K</i> = 2 correlated target</p>
</div>
<div class="c" style="left:74px;top:1034.7px">
<p>signals as <b>Γ</b> = [ <span class="mx"><i>σ</i><sub>1</sub><sup>2</sup>&nbsp;&nbsp; <i>ρ</i><br><i>ρ</i>&nbsp;&nbsp; <i>σ</i><sub>2</sub><sup>2</sup></span> ] where <i>ρ</i> is the correlation coefficient.</p>
</div>
<div class="c" style="left:74px;top:1056.5px">
<p>We can see that <span class="s">DeepMUSIC</span> closely follows the MUSIC algorithm</p>
<p class="e">and provides less RMSE when fully correlated case (i.e., <i>ρ</i> = 1).</p>
</div>
<div class="f" style="left:74px;top:1108px">
<p><sup>2</sup>The resolution limit <i>γ</i> can also be viewed as the angular search step size of the</p>
<p class="e">MUSIC algorithm [2].</p>
</div>

<div class="c" style="left:478px;top:92.5px">
<p class="i">We also compare the computation complexity of the DOA</p>
<p>estimation algorithms for the same settings and <i>K</i> = 2. We observe</p>
<p>that <span class="s">DeepMUSIC</span> and MLP take about 0.0020 s and 0.0110 s whereas</p>
<p>spectral MUSIC and Root-MUSIC need 0.0300 s and 0.0040 s to</p>
<p>obtain the MUSIC spectra. These results show that <span class="s">DeepMUSIC</span> has</p>
<p>the lowest computation time as compared to the competing algorithms.</p>
<p>While <span class="s">DeepMUSIC</span> has multiple networks as compared to MLP, it</p>
<p>provides less computation time due to the fact that 1) <span class="s">DeepMUSIC</span></p>
<p>has many convolutional layers rather than fully connected layers</p>
<p>which involve higher complexity [17] and 2) the multiple networks</p>
<p>in <span class="s">DeepMUSIC</span> can be trained and run with parallel processing so</p>
<p>that the computational complexity is reduced. Similar observations</p>
<p class="e">are also reported in [5].</p>
</div>
<div class="h" style="left:478px;top:350.5px">V. SUMMARY</div>
<div class="c" style="left:478px;top:379px">
<p class="i">In this letter, we introduced a DL framework called <span class="s">DeepMUSIC</span></p>
<p>for DOA estimation. The major advantage of the proposed approach</p>
<p>is that it can work for multiple targets in comparison with the previous</p>
<p>works. Furthermore, <span class="s">DeepMUSIC</span> provides less computational</p>
<p class="e">complexity as compared to the conventional techniques.</p>
</div>
<div class="h" style="left:478px;top:490px">REFERENCES</div>

<div class="r" style="top:520px"><span class="no">[1]</span>
<p>H. Krim and M. Viberg, “Two decades of array signal processing research: the</p>
<p>parametric approach,” <i>Signal Processing Magazine, IEEE</i>, vol. 13, no. 4, pp. 67–94,</p>
<p class="e">Jul 1996.</p></div>
<div class="r" style="top:563px"><span class="no">[2]</span>
<p>R. Schmidt, “Multiple emitter location and signal parameter estimation,” <i>IEEE</i></p>
<p class="e"><i>Trans. Antennas Propag.</i>, vol. 34, no. 3, pp. 276–280, 1986.</p></div>
<div class="r" style="top:590px"><span class="no">[3]</span>
<p>B. Friedlander and A. Weiss, “Direction finding in the presence of mutual coupling,”</p>
<p class="e"><i>IEEE Trans. Antennas Propag.</i>, vol. 39, no. 3, pp. 273–284, 1991.</p></div>
<div class="r" style="top:619px"><span class="no">[4]</span>
<p>Z. Liu, C. Zhang, and P. S. Yu, “Direction-of-arrival estimation based on deep</p>
<p>neural networks with robustness to array imperfections,” <i>IEEE Trans. Antennas</i></p>
<p class="e"><i>Propag.</i>, vol. 66, no. 12, pp. 7315–7327, Dec 2018.</p></div>
<div class="r" style="top:661px"><span class="no">[5]</span>
<p>L. Wu, Z. Liu, and Z. Huang, “Deep Convolution Network for Direction of Arrival</p>
<p>Estimation With Sparse Prior,” <i>IEEE Signal Process. Lett.</i>, vol. 26, no. 11, pp.</p>
<p class="e">1688–1692, Nov 2019.</p></div>
<div class="r" style="top:703px"><span class="no">[6]</span>
<p>D. Hu, Y. Zhang, L. He, and J. Wu, “Low-Complexity Deep-Learning-Based DOA</p>
<p>Estimation for Hybrid Massive MIMO Systems with Uniform Circular Arrays,”</p>
<p class="e"><i>IEEE Wireless Commun. Lett.</i>, pp. 1–1, 2019.</p></div>
<div class="r" style="top:744px"><span class="no">[7]</span>
<p>H. Huang, Y. Peng, J. Yang, W. Xia, and G. Gui, “Fast beamforming design via</p>
<p>deep learning,” <i>IEEE Trans. Veh. Technol.</i>, vol. 69, no. 1, pp. 1065–1069, Jan</p>
<p class="e">2020.</p></div>
<div class="r" style="top:786.5px"><span class="no">[8]</span>
<p>Y. Wang, M. Liu, J. Yang, and G. Gui, “Data-Driven Deep Learning for Automatic</p>
<p>Modulation Recognition in Cognitive Radios,” <i>IEEE Trans. Veh. Technol.</i>, vol. 68,</p>
<p class="e">no. 4, pp. 4074–4077, April 2019.</p></div>
<div class="r" style="top:828px"><span class="no">[9]</span>
<p>A. M. Elbir and K. V. Mishra, “Joint Antenna Selection and Hybrid Beamformer</p>
<p>Design using Unquantized and Quantized Deep Learning Networks,” <i>IEEE Trans.</i></p>
<p class="e"><i>Wireless Commun.</i>, pp. 1–1, 2019.</p></div>
<div class="r" style="top:870px"><span class="no">[10]</span>
<p>A. Massa, D. Marcantonio, X. Chen, M. Li, and M. Salucci, “DNNs as Applied to</p>
<p>Electromagnetics, Antennas, and Propagation-A Review,” <i>IEEE Antennas Wireless</i></p>
<p class="e"><i>Propag. Lett.</i>, vol. 18, no. 11, pp. 2225–2229, Nov 2019.</p></div>
<div class="r" style="top:912.5px"><span class="no">[11]</span>
<p>L. Wu and Z. Huang, “Coherent svr learning for wideband direction-of-arrival</p>
<p class="e">estimation,” <i>IEEE Signal Process. Lett.</i>, vol. 26, no. 4, pp. 642–646, April 2019.</p></div>
<div class="r" style="top:941px"><span class="no">[12]</span>
<p>Q. Li, X. Zhang, and H. Li, “Online direction of arrival estimation based on deep</p>
<p>learning,” in <i>2018 IEEE International Conference on Acoustics, Speech and Signal</i></p>
<p class="e"><i>Processing (ICASSP)</i>, April 2018, pp. 2616–2620.</p></div>
<div class="r" style="top:982.7px"><span class="no">[13]</span>
<p>A. M. Elbir, K. V. Mishra, and Y. C. Eldar, “Cognitive radar antenna selection</p>
<p class="e">via deep learning,” <i>IET Radar, Sonar &amp; Navigation</i>, vol. 13, pp. 871–880, 2019.</p></div>
<div class="r" style="top:1010.6px"><span class="no">[14]</span>
<p>A. M. Elbir, S. Mulleti, R. Cohen, R. Fu, and Y. C. Eldar, “Deep-sparse array</p>
<p>cognitive radar,” in <i>IEEE International Conference on Sampling Theory and</i></p>
<p class="e"><i>Applications</i>, 2019, pp. 1–5.</p></div>
<div class="r" style="top:1052.8px"><span class="no">[15]</span>
<p>J. Cheng, J. Wu, C. Leng, Y. Wang, and Q. Hu, “Quantized CNN: A unified</p>
<p>approach to accelerate and compress convolutional networks,” <i>IEEE Trans. Neural</i></p>
<p class="e"><i>Netw. Learn. Syst.</i>, vol. 29, no. 10, pp. 4730–4743, 2018.</p></div>
<div class="r" style="top:1095px"><span class="no">[16]</span>
<p>P. Stoica and A. Nehorai, “MUSIC, maximum likelihood, and Cramér-Rao bound:</p>
<p>Further results and comparisons,” <i>IEEE Transactions on Acoustics, Speech, and</i></p>
<p class="e"><i>Signal Processing</i>, vol. 38, no. 12, pp. 2140–2150, 1990.</p></div>
</div>

<!-- ================= PAGE 5 ================= -->
<div class="pg" style="left:3708px">
<div class="rule"></div>
<div class="r" style="left:74px;top:95px;width:352px"><span class="no">[17]</span>
<p>K. Simonyan and A. Zisserman, “Very deep convolutional networks for large-scale</p></div>
<div class="r" style="left:478px;top:95px;width:351px">
<p class="e">image recognition,” <i>arXiv preprint arXiv:1409.1556</i>, 2014.</p></div>
</div>
</body></html>
